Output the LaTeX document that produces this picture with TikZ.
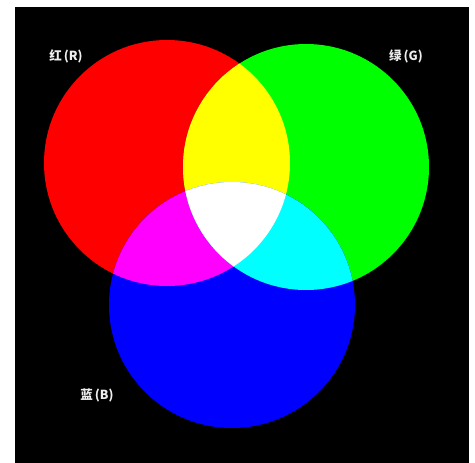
\documentclass[tikz,border=0pt]{standalone}
\usepackage{fontspec}
\newfontfamily\cjkfont{Noto Sans CJK SC}
\usepackage{tikz}
\usetikzlibrary{positioning}
\definecolor{redlight}{HTML}{FF0000}
\definecolor{greenlight}{HTML}{00FF00}
\definecolor{bluelight}{HTML}{0000FF}
\definecolor{yellowlight}{HTML}{FFFF00}
\definecolor{magentalight}{HTML}{FF00FF}
\definecolor{cyanlight}{HTML}{00FFFF}
\definecolor{whitelight}{HTML}{FFFFFF}
\definecolor{labelcolor}{HTML}{EEEEEE}

\begin{document}
\begin{tikzpicture}[x=1pt, y=-1pt,
    lbl/.style={text=labelcolor, font=\cjkfont\bfseries\fontsize{12.5}{14}\selectfont, inner sep=0pt}]
    \useasboundingbox (0,0) rectangle (475,463);

    % Background
    \fill[white] (0,0) rectangle (475,463);
    \fill[black] (15,7) rectangle (469,463);

    % Light centres
    \coordinate (cr) at (167,163);
    \coordinate (cg) at (306,167);
    \coordinate (cb) at (232,305);

    % Primary lights
    \fill[redlight] (cr) circle[radius=123pt];
    \fill[greenlight] (cg) circle[radius=123pt];
    \fill[bluelight] (cb) circle[radius=123pt];

    % Mixtures of two
    \begin{scope}
        \clip (cr) circle[radius=123pt];
        \fill[yellowlight] (cg) circle[radius=123pt];
        \fill[magentalight] (cb) circle[radius=123pt];
    \end{scope}
    \begin{scope}
        \clip (cg) circle[radius=123pt];
        \fill[cyanlight] (cb) circle[radius=123pt];
    \end{scope}

    % All three
    \begin{scope}
        \clip (cr) circle[radius=123pt];
        \clip (cg) circle[radius=123pt];
        \fill[whitelight] (cb) circle[radius=123pt];
    \end{scope}

    % Labels
    \node[lbl] (lr) at (66,56) {红\,(R)};
    \node[lbl] (lg) at (406,56) {绿\,(G)};
    \node[lbl] (lb) at (97,395) {蓝\,(B)};
\end{tikzpicture}
\end{document}
